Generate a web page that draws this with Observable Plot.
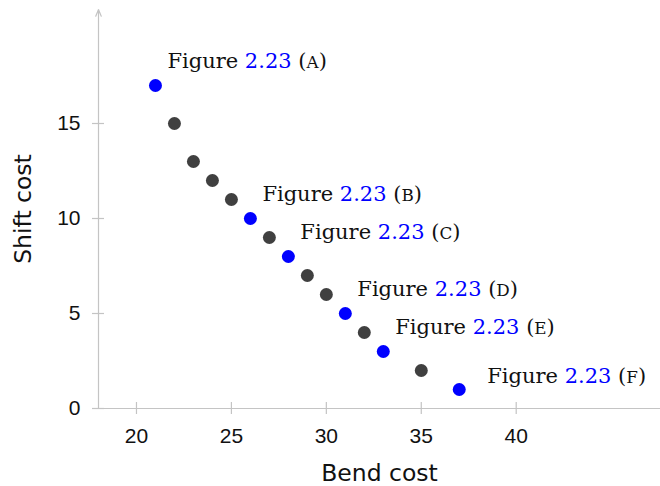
<!DOCTYPE html>
<html><head><meta charset="utf-8">
<script src="https://cdn.jsdelivr.net/npm/d3@7"></script>
<script src="https://cdn.jsdelivr.net/npm/@observablehq/plot@0.6"></script>
<style>body{margin:0;background:#fff}</style>
</head><body><div id="chart"></div>
<script>
const bendCost  = [21, 22, 23, 24, 25, 26, 27, 28, 29, 30, 31, 32, 33, 35, 37];
const shiftCost = [17, 15, 13, 12, 11, 10,  9,  8,  7,  6,  5,  4,  3,  2,  1];
const figureLetters = ["a", "", "", "", "", "b", "", "c", "", "", "d", "", "e", "", "f"];
const figureRef = "2.23";
const xTicks = [20, 25, 30, 35, 40];
const yTicks = [0, 5, 10, 15];
const xTitle = "Bend cost";
const yTitle = "Shift cost";

const points = bendCost.map((b, i) => ({bend: b, shift: shiftCost[i], letter: figureLetters[i]}));
const labeled = points.filter(d => d.letter);
const aboveLabels = labeled.filter(d => d.letter !== "f");
const rightLabels = labeled.filter(d => d.letter === "f");

const axisColor = "#c4c4c4";
const blue = "#0000ff";
const gray = "#404040";
const serif = "DejaVu Serif";
const sans = "Liberation Sans";

const chart = Plot.plot({
  width: 660, height: 486,
  marginLeft: 98, marginRight: 0, marginTop: 9, marginBottom: 78,
  x: {domain: [18, 47.6], axis: null},
  y: {domain: [0, 21], axis: null},
  color: {type: "identity"},
  style: {background: "#fff", overflow: "visible"},
  marks: [
    Plot.ruleY([0], {y: d => d, stroke: axisColor, strokeWidth: 1.2}),
    Plot.arrow([0], {x1: () => 18, x2: () => 18, y1: () => 0, y2: () => 21, stroke: axisColor, strokeWidth: 1.2, headLength: 9, headAngle: 45}),
    Plot.ruleX(xTicks, {x: d => d, y1: () => 0, y2: () => 0, insetTop: -6, insetBottom: -6, stroke: axisColor, strokeWidth: 1.2}),
    Plot.ruleY(yTicks, {y: d => d, x1: () => 18, x2: () => 18, insetLeft: -6, insetRight: -6, stroke: axisColor, strokeWidth: 1.2}),
    Plot.text(xTicks, {x: d => d, y: () => 0, text: d => String(d), dy: 28, lineAnchor: "middle", fontSize: 21, fontFamily: sans, fill: "#111"}),
    Plot.text(yTicks, {x: () => 18, y: d => d, text: d => String(d), dx: -18, textAnchor: "end", lineAnchor: "middle", fontSize: 21, fontFamily: sans, fill: "#111"}),
    Plot.text([xTitle], {text: d => d, frameAnchor: "bottom", dy: 65, textAnchor: "middle", lineAnchor: "middle", fontSize: 23.5, fontFamily: "DejaVu Sans", fill: "#111"}),
    Plot.text([yTitle], {text: d => d, frameAnchor: "left", rotate: -90, dx: -75, textAnchor: "middle", lineAnchor: "middle", fontSize: 23.5, fontFamily: "DejaVu Sans", fill: "#111"}),
    Plot.dot(points, {x: "bend", y: "shift", r: 6.5, fill: d => d.letter ? blue : gray, stroke: "none"}),
    Plot.text(aboveLabels, {x: "bend", y: "shift", text: "letter", textAnchor: "start", lineAnchor: "middle", dx: 12, dy: -24, fontSize: 21, fontFamily: serif, fill: "#111", className: "figlab"}),
    Plot.text(rightLabels, {x: "bend", y: "shift", text: "letter", textAnchor: "start", lineAnchor: "middle", dx: 28, dy: -13, fontSize: 21, fontFamily: serif, fill: "#111", className: "figlab"})
  ]
});

d3.select(chart).selectAll("text").each(function() {
  const letter = this.textContent;
  if (!figureLetters.includes(letter) || letter === "") return;
  const t = d3.select(this);
  t.text(null);
  t.append("tspan").text("Figure ");
  t.append("tspan").attr("fill", blue).text(figureRef);
  t.append("tspan").text(" (");
  t.append("tspan").style("font-size", "0.8em").text(letter.toUpperCase());
  t.append("tspan").text(")");
});

document.getElementById("chart").appendChild(chart);
</script>
</body></html>
